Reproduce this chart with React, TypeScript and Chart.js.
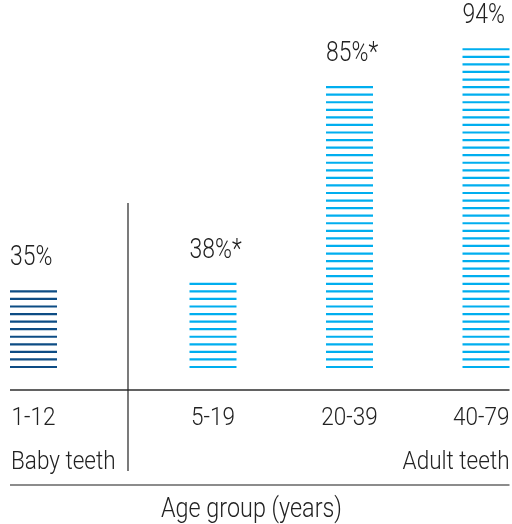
import React, { useEffect, useRef } from "react";
import { Chart, registerables } from "chart.js";

Chart.register(...registerables);

// Share of people with tooth decay, by age group
const babyAges = ["1-12"];
const adultAges = ["5-19", "20-39", "40-79"];
const babyShare = [35];
const adultShare = [38, 85, 94];
const babyMarks = [""];
const adultMarks = ["*", "*", ""];
const toothGroups = ["Baby teeth", "Adult teeth"];
const axisTitle = "Age group (years)";

const DARK_BLUE = "#0d4c84";
const LIGHT_BLUE = "#00aeef";
const INK = "#222222";
const FONT_FAMILY = "Roboto, 'Noto Sans', sans-serif";
const SQUEEZE = 0.85;

const STRIPE_GAP = 7.565;
const STRIPE_WIDTH = 2.2;
const STRIPE_LIFT = 23; // distance from the axis line up to the lowest stripe
const BAR_WIDTH = 47;

function squeezedText(
  ctx: CanvasRenderingContext2D,
  text: string,
  x: number,
  y: number,
  size: number,
  align: "left" | "center" | "right",
  maxRight = Infinity
) {
  ctx.save();
  ctx.font = `300 ${size}px ${FONT_FAMILY}`;
  ctx.fillStyle = INK;
  ctx.textBaseline = "alphabetic";
  ctx.textAlign = "left";
  const w = ctx.measureText(text).width * SQUEEZE;
  let left = x;
  if (align === "center") left = x - w / 2;
  else if (align === "right") left = x - w;
  if (left + w > maxRight) left = maxRight - w;
  ctx.translate(left, y);
  ctx.scale(SQUEEZE, 1);
  ctx.fillText(text, 0, 0);
  ctx.restore();
}

function line(
  ctx: CanvasRenderingContext2D,
  x1: number,
  y1: number,
  x2: number,
  y2: number,
  color: string,
  width: number
) {
  ctx.save();
  ctx.strokeStyle = color;
  ctx.lineWidth = width;
  ctx.beginPath();
  ctx.moveTo(x1, y1);
  ctx.lineTo(x2, y2);
  ctx.stroke();
  ctx.restore();
}

// Each bar is drawn as a stack of thin horizontal stripes rising from the axis
const stripedBars = {
  id: "stripedBars",
  afterDatasetsDraw(chart: any) {
    const { ctx, chartArea } = chart;
    const floor = chartArea.bottom - STRIPE_LIFT;
    chart.data.datasets.forEach((ds: any, di: number) => {
      const meta = chart.getDatasetMeta(di);
      meta.data.forEach((bar: any, i: number) => {
        const { x, y, width } = bar.getProps(["x", "y", "width"], true);
        const left = x - width / 2;
        const right = x + width / 2;
        ctx.save();
        ctx.strokeStyle = ds.stripeColor;
        ctx.lineWidth = STRIPE_WIDTH;
        let top = floor;
        for (let k = 0; ; k++) {
          const sy = floor - k * STRIPE_GAP;
          if (sy < y) break;
          ctx.beginPath();
          ctx.moveTo(left, sy);
          ctx.lineTo(right, sy);
          ctx.stroke();
          top = sy;
        }
        ctx.restore();
        squeezedText(ctx, `${ds.data[i]}%${ds.marks[i]}`, left, top - 26, 27, "left");
      });
    });
  },
};

const frame = {
  id: "frame",
  afterDraw(chart: any) {
    const { ctx, chartArea } = chart;
    const base = chartArea.bottom;
    const xBaby = chart.scales.xBaby;
    const xAdult = chart.scales.xAdult;
    const start = chartArea.left - BAR_WIDTH / 2;
    const end = chartArea.right + BAR_WIDTH / 2;
    const dividerX = start + 118;

    // axis line
    line(ctx, start, base, end, base, "#2e2e2e", 1.6);
    // panel divider
    line(ctx, dividerX, base - 187, dividerX, base + 81, "#222222", 1.2);

    // category labels
    babyAges.forEach((lab, i) =>
      squeezedText(ctx, lab, xBaby.getPixelForValue(i), base + 34.5, 26.5, "center", end)
    );
    adultAges.forEach((lab, i) =>
      squeezedText(ctx, lab, xAdult.getPixelForValue(i), base + 34.5, 26.5, "center", end)
    );

    // panel captions
    squeezedText(ctx, toothGroups[0], start + 1, base + 79, 26.5, "left");
    squeezedText(ctx, toothGroups[1], end, base + 79, 26.5, "right");

    // bottom rule and axis title
    line(ctx, start, base + 95, end, base + 95, "#666666", 1.6);
    squeezedText(ctx, axisTitle, start + 241.5, base + 126.5, 27.5, "center");
  },
};

export default function App() {
  const canvasRef = useRef<HTMLCanvasElement | null>(null);

  useEffect(() => {
    const canvas = canvasRef.current;
    if (!canvas) return;
    const chart = new Chart(canvas, {
      type: "bar",
      data: {
        datasets: [
          {
            label: toothGroups[0],
            data: babyShare,
            xAxisID: "xBaby",
            yAxisID: "y",
            backgroundColor: "rgba(0,0,0,0)",
            stripeColor: DARK_BLUE,
            marks: babyMarks,
          } as any,
          {
            label: toothGroups[1],
            data: adultShare,
            xAxisID: "xAdult",
            yAxisID: "y",
            backgroundColor: "rgba(0,0,0,0)",
            stripeColor: LIGHT_BLUE,
            marks: adultMarks,
          } as any,
        ],
      },
      options: {
        responsive: false,
        animation: false,
        devicePixelRatio: 1,
        grouped: false,
        barThickness: BAR_WIDTH,
        layout: { padding: { left: 33.5, right: 26, top: 20.65, bottom: 134 } },
        plugins: { legend: { display: false }, tooltip: { enabled: false } },
        scales: {
          xBaby: {
            type: "category",
            labels: babyAges,
            position: "bottom",
            stack: "age",
            stackWeight: 179.5,
            offset: false,
            grid: { display: false, drawTicks: false },
            border: { display: false },
            ticks: { display: false },
            afterFit: (s: any) => {
              s.height = 0;
              s.paddingLeft = 0;
              s.paddingRight = 0;
            },
          },
          xAdult: {
            type: "category",
            labels: adultAges,
            position: "bottom",
            stack: "age",
            stackWeight: 273,
            offset: false,
            grid: { display: false, drawTicks: false },
            border: { display: false },
            ticks: { display: false },
            afterFit: (s: any) => {
              s.height = 0;
              s.paddingLeft = 0;
              s.paddingRight = 0;
            },
          },
          y: { type: "linear", min: 11, max: 100, display: false },
        },
      } as any,
      plugins: [stripedBars, frame],
    });
    return () => chart.destroy();
  }, []);

  return (
    <div style={{ position: "absolute", left: 0, top: 0, width: 512, height: 524, background: "#fff" }}>
      <canvas ref={canvasRef} width={512} height={524} />
    </div>
  );
}
